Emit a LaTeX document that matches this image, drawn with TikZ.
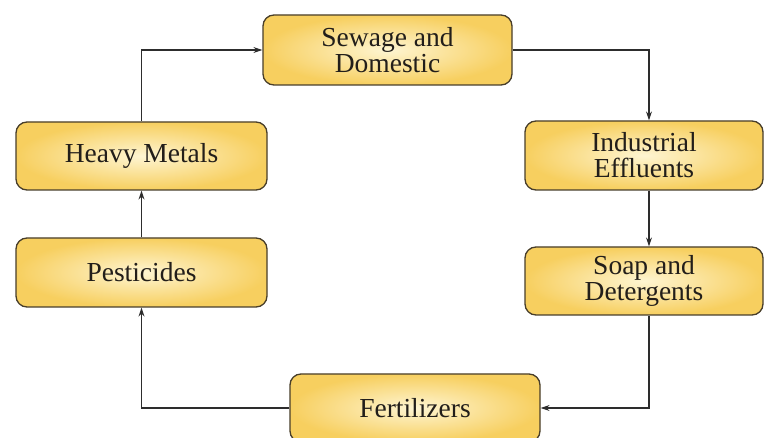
\documentclass[tikz,border=0pt]{standalone}
\usepackage{fontspec}
\setmainfont{Liberation Serif}
\usetikzlibrary{arrows.meta,calc}
\definecolor{boxedge}{RGB}{72,62,42}
\definecolor{boxout}{RGB}{247,207,95}
\definecolor{boxin}{RGB}{254,245,210}
\definecolor{txt}{RGB}{34,30,26}
\definecolor{lin}{RGB}{45,45,45}
\tikzset{
  pbox/.style={draw=boxedge, line width=1.3pt, rounded corners=11pt,
    inner color=boxin, outer color=boxout,
    minimum width=#1, align=center, text=txt, inner sep=0pt,
    font=\fontsize{27.5}{26}\selectfont},
  pbox/.default=250pt,
  conn/.style={draw=lin, line width=1.1pt, -{Stealth[length=9pt,width=6pt]}},
}
\begin{document}
\begin{tikzpicture}[x=1pt,y=-1pt]
\clip (0,0) rectangle (764,438);
\fill[white] (0,0) rectangle (764,438);
\node[pbox=249pt, minimum height=70pt] (sew) at (387.5,50) {Sewage and\\Domestic};
\node[pbox=251pt, minimum height=68pt] (heavy) at (141.5,156) {Heavy Metals};
\node[pbox=251pt, minimum height=69pt] (pest) at (141.5,272.5) {Pesticides};
\node[pbox=238pt, minimum height=69pt] (ind) at (644,155.5) {Industrial\\Effluents};
\node[pbox=238pt, minimum height=68pt] (soap) at (644,281) {Soap and\\Detergents};
\node[pbox=250pt, minimum height=68pt] (fert) at (415,408) {Fertilizers};
\draw[conn] (pest.north) -- (heavy.south);
\draw[conn] (heavy.north) |- (sew.west);
\draw[conn] (sew.east) -| ([xshift=5pt]ind.north);
\draw[conn] ([xshift=5pt]ind.south) -- ([xshift=5pt]soap.north);
\draw[conn] ([xshift=5pt]soap.south) |- (fert.east);
\draw[conn] (fert.west) -| (pest.south);
\end{tikzpicture}
\end{document}
